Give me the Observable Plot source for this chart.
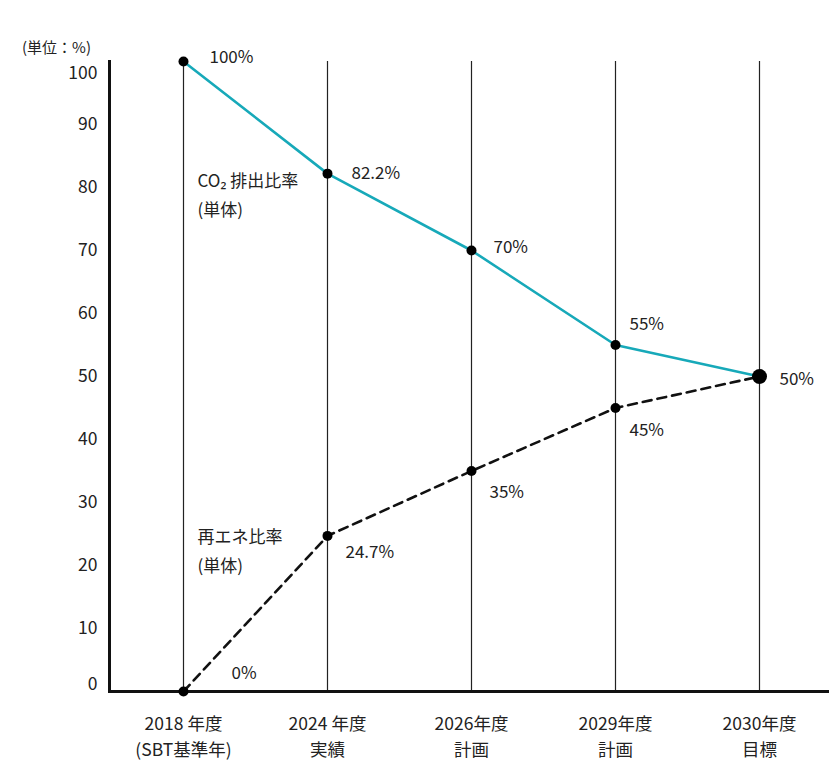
<!DOCTYPE html>
<html><head><meta charset="utf-8">
<script src="https://cdn.jsdelivr.net/npm/d3@7"></script>
<script src="https://cdn.jsdelivr.net/npm/@observablehq/plot@0.6"></script>
<style>
body{margin:0;background:#fff;}
#wrap{position:relative;width:829px;height:773px;font-family:"Noto Sans CJK JP","Noto Sans",sans-serif;}
#unit{position:absolute;left:22px;top:36px;font-size:15px;color:#222;}
</style></head>
<body><div id="wrap"><div id="unit">(単位：%)</div></div>
<script>
const categories = ["2018", "2024", "2026", "2029", "2030"];
const categoryLabels = ["2018 年度\n(SBT基準年)", "2024 年度\n実績", "2026年度\n計画", "2029年度\n計画", "2030年度\n目標"];
const co2Values = [100, 82.2, 70, 55, 50];
const co2Labels = ["100%", "82.2%", "70%", "55%", "50%"];
const reValues = [0, 24.7, 35, 45, 50];
const reLabels = ["0%", "24.7%", "35%", "45%", ""];
const yTicks = [10, 20, 30, 40, 50, 60, 70, 80, 90];
const yTickTop = [100];
const yTickBottom = [0];
const seriesNames = [
  {name: "CO₂ 排出比率\n(単体)", y: 79.2},
  {name: "再エネ比率\n(単体)", y: 22.7}
];

const co2 = categories.map((c, i) => ({x: c, y: co2Values[i], label: co2Labels[i], i}));
const re = categories.map((c, i) => ({x: c, y: reValues[i], label: reLabels[i], i}));
const labelMap = new Map(categories.map((c, i) => [c, categoryLabels[i]]));

// label offsets per point (style only)
const co2Off = [[26, -4], [24, 0], [22, -3], [14, -20], [20, 3]];
const reOff = [[48, -18], [18, 17], [18, 22], [14, 23], [0, 0]];

const plot = Plot.plot({
  width: 829,
  height: 773,
  marginLeft: 109,
  marginRight: 0,
  marginTop: 61,
  marginBottom: 82,
  style: {fontFamily: '"Noto Sans CJK JP","Noto Sans",sans-serif', fontSize: "17px", color: "#222", background: "transparent"},
  x: {type: "point", domain: categories, range: [181, 760], padding: 0},
  y: {domain: [0, 100]},
  marks: [
    Plot.ruleX(categories, {x: d => d, stroke: "#222", strokeWidth: 1.2}),
    Plot.frame({anchor: "left", stroke: "#111", strokeWidth: 3}),
    Plot.ruleY([0], {stroke: "#111", strokeWidth: 3}),
    Plot.axisY({ticks: yTicks, tickSize: 0, tickPadding: 12, fontSize: 17.5, label: null}),
    Plot.text(yTickTop, {y: d => d, frameAnchor: "left", textAnchor: "end", dx: -12, dy: 12, fontSize: 17.5, fill: "#222"}),
    Plot.text(yTickBottom, {y: d => d, frameAnchor: "left", textAnchor: "end", dx: -12, dy: -7, fontSize: 17.5, fill: "#222"}),
    Plot.axisX({tickSize: 0, tickPadding: 20, fontSize: 17.5, label: null, lineHeight: 1.5, tickFormat: d => labelMap.get(d)}),
    Plot.line(co2, {x: "x", y: "y", stroke: "#17a9b9", strokeWidth: 2.6}),
    Plot.line(re, {x: "x", y: "y", stroke: "#111", strokeWidth: 2.6, strokeDasharray: "9,6"}),
    Plot.dot(co2.filter(d => d.i < 4), {x: "x", y: "y", r: 5, fill: "#000"}),
    Plot.dot(re.filter(d => d.i < 4), {x: "x", y: "y", r: 5, fill: "#000"}),
    Plot.dot(co2.filter(d => d.i === 4), {x: "x", y: "y", r: 7.5, fill: "#000"}),
    ...co2.map((d, k) => Plot.text([d], {x: "x", y: "y", text: "label", textAnchor: "start", dx: co2Off[k][0], dy: co2Off[k][1], fontSize: 17, fill: "#222"})),
    ...re.filter(d => d.label).map((d, k) => Plot.text([d], {x: "x", y: "y", text: "label", textAnchor: "start", dx: reOff[k][0], dy: reOff[k][1], fontSize: 17, fill: "#222"})),
    Plot.text(seriesNames, {x: () => categories[0], y: "y", text: "name", textAnchor: "start", dx: 14, lineHeight: 1.7, fontSize: 17, fill: "#222"})
  ]
});
document.getElementById("wrap").prepend(plot);
plot.style.position = "absolute";
plot.style.left = "0";
plot.style.top = "0";
</script>
</body></html>
